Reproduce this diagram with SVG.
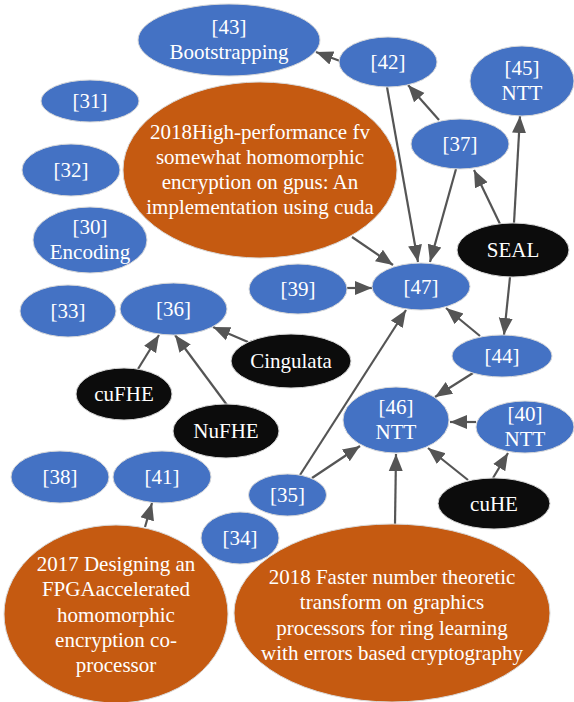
<svg xmlns="http://www.w3.org/2000/svg" width="574" height="702" viewBox="0 0 574 702">
<style>
.b{fill:#4472C4;stroke:#d9d9d9;stroke-width:1}
.o{fill:#C55A11;stroke:#d9d9d9;stroke-width:1}
.k{fill:#0c0c0c;stroke:#d9d9d9;stroke-width:1}
.t text{font-size:21px;fill:#ffffff;text-anchor:middle}
.e line{stroke:#555555;stroke-width:2.2;marker-end:url(#ah)}
</style>
<defs>
<marker id="ah" markerUnits="userSpaceOnUse" markerWidth="18" markerHeight="16" refX="17" refY="8" orient="auto">
<path d="M0,1 L17,8 L0,15 z" fill="#555555"/>
</marker>
</defs>
<rect width="574" height="702" fill="#ffffff"/>
<g class="e" id="edges">
<line x1="340" y1="61" x2="316" y2="52"/>
<line x1="439" y1="120" x2="408" y2="85"/>
<line x1="387" y1="87" x2="418" y2="262"/>
<line x1="456" y1="169" x2="430" y2="262"/>
<line x1="500" y1="224" x2="474" y2="170"/>
<line x1="514" y1="223" x2="520" y2="116"/>
<line x1="510" y1="277" x2="504" y2="335"/>
<line x1="352" y1="237" x2="393" y2="265"/>
<line x1="347" y1="288" x2="372" y2="288"/>
<line x1="480" y1="336" x2="446" y2="308"/>
<line x1="473" y1="373" x2="435" y2="397"/>
<line x1="476" y1="422" x2="450" y2="422"/>
<line x1="468" y1="480" x2="428" y2="448"/>
<line x1="493" y1="478" x2="508" y2="453"/>
<line x1="300" y1="475" x2="406" y2="310"/>
<line x1="312" y1="478" x2="360" y2="446"/>
<line x1="395" y1="525" x2="396" y2="454"/>
<line x1="145" y1="527" x2="152" y2="503"/>
<line x1="138" y1="369" x2="159" y2="335"/>
<line x1="227" y1="405" x2="175" y2="335"/>
<line x1="248" y1="342" x2="213" y2="327"/>
</g>
<g class="t" font-family="'Liberation Serif', 'Times New Roman', 'DejaVu Serif', serif">
<g id="n43"><ellipse class="b" cx="229" cy="40" rx="91" ry="36"/><text x="229" y="34">[43]</text><text x="229" y="59">Bootstrapping</text></g>
<g id="n42"><ellipse class="b" cx="388" cy="62" rx="49" ry="25"/><text x="388" y="69">[42]</text></g>
<g id="n45"><ellipse class="b" cx="522" cy="81" rx="52" ry="35"/><text x="522" y="75">[45]</text><text x="522" y="100">NTT</text></g>
<g id="n31"><ellipse class="b" cx="90" cy="101" rx="49" ry="21"/><text x="90" y="108">[31]</text></g>
<g id="n37"><ellipse class="b" cx="460" cy="144" rx="49" ry="25"/><text x="460" y="151">[37]</text></g>
<g id="hp"><ellipse class="o" cx="260" cy="170" rx="137" ry="88"/><text x="260" y="139">2018High-performance fv</text><text x="260" y="164">somewhat homomorphic</text><text x="260" y="189">encryption on gpus: An</text><text x="260" y="214">implementation using cuda</text></g>
<g id="n32"><ellipse class="b" cx="71" cy="170" rx="49" ry="26"/><text x="71" y="177">[32]</text></g>
<g id="n30"><ellipse class="b" cx="90" cy="240" rx="57" ry="33"/><text x="90" y="234">[30]</text><text x="90" y="259">Encoding</text></g>
<g id="seal"><ellipse class="k" cx="513" cy="250" rx="56" ry="27"/><text x="513" y="257">SEAL</text></g>
<g id="n39"><ellipse class="b" cx="298" cy="289" rx="49" ry="25"/><text x="298" y="296">[39]</text></g>
<g id="n47"><ellipse class="b" cx="421" cy="286.5" rx="49" ry="23.5"/><text x="421" y="294">[47]</text></g>
<g id="n33"><ellipse class="b" cx="68" cy="311" rx="48" ry="26"/><text x="68" y="318">[33]</text></g>
<g id="n36"><ellipse class="b" cx="173.5" cy="309" rx="53.5" ry="26"/><text x="173.5" y="316">[36]</text></g>
<g id="cing"><ellipse class="k" cx="291" cy="361" rx="60" ry="27"/><text x="291" y="368">Cingulata</text></g>
<g id="n44"><ellipse class="b" cx="502" cy="356" rx="50" ry="21"/><text x="502" y="363">[44]</text></g>
<g id="cufhe"><ellipse class="k" cx="124" cy="394" rx="48" ry="26"/><text x="124" y="401">cuFHE</text></g>
<g id="n46"><ellipse class="b" cx="396" cy="420" rx="53" ry="33"/><text x="396" y="414">[46]</text><text x="396" y="439">NTT</text></g>
<g id="n40"><ellipse class="b" cx="525" cy="427" rx="49" ry="26"/><text x="525" y="421">[40]</text><text x="525" y="446">NTT</text></g>
<g id="nufhe"><ellipse class="k" cx="226" cy="431" rx="53" ry="27"/><text x="226" y="438">NuFHE</text></g>
<g id="n38"><ellipse class="b" cx="60" cy="477" rx="49" ry="26"/><text x="60" y="484">[38]</text></g>
<g id="n41"><ellipse class="b" cx="162" cy="477" rx="49" ry="26"/><text x="162" y="484">[41]</text></g>
<g id="n35"><ellipse class="b" cx="287.5" cy="495" rx="39" ry="21"/><text x="287.5" y="502">[35]</text></g>
<g id="cuhe"><ellipse class="k" cx="494" cy="503.5" rx="56" ry="25.5"/><text x="494" y="511">cuHE</text></g>
<g id="n34"><ellipse class="b" cx="240" cy="538" rx="39" ry="26"/><text x="240" y="545">[34]</text></g>
<g id="p2017"><ellipse class="o" cx="116" cy="614" rx="112" ry="89"/><text x="116" y="571">2017 Designing an</text><text x="116" y="596">FPGAaccelerated</text><text x="116" y="622">homomorphic</text><text x="116" y="647">encryption co-</text><text x="116" y="672">processor</text></g>
<g id="p2018"><ellipse class="o" cx="392" cy="613" rx="158" ry="89"/><text x="392" y="584">2018 Faster number theoretic</text><text x="392" y="609">transform on graphics</text><text x="392" y="635">processors for ring learning</text><text x="392" y="660">with errors based cryptography</text></g>
</g>
</svg>
